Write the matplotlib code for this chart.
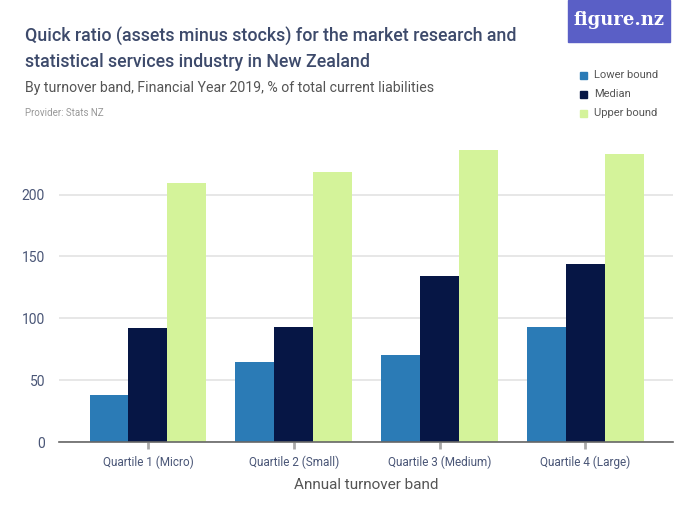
import matplotlib
matplotlib.use("Agg")
import matplotlib.pyplot as plt
import numpy as np
from matplotlib.patches import Rectangle

categories = ["Quartile 1 (Micro)", "Quartile 2 (Small)", "Quartile 3 (Medium)", "Quartile 4 (Large)"]
lower = [38, 65, 70, 93]
median = [92, 93, 134, 144]
upper = [209, 218, 236, 233]
series_names = ["Lower bound", "Median", "Upper bound"]
colors = ["#2b7bb6", "#061645", "#d4f39a"]
yticks = [0, 50, 100, 150, 200]

plt.rcParams['font.family'] = ['Roboto', 'DejaVu Sans']

fig = plt.figure(figsize=(7, 5.25), dpi=100)
ax = fig.add_axes([59/700, 1-442/525, (673-59)/700, (442-145)/525])

x = np.arange(len(categories))
w = 0.267
for i, (vals, c) in enumerate(zip([lower, median, upper], colors)):
    ax.bar(x + (i-1)*w, vals, width=w, color=c, zorder=3)

ax.set_xlim(-0.61, 3.6)
ax.set_ylim(0, 240)
ax.set_yticks(yticks)
ax.set_yticklabels([str(t) for t in yticks], color="#4a5677", fontsize=10)
ax.yaxis.grid(True, color="#e3e3e3", linewidth=1.2, zorder=0)
ax.tick_params(axis='y', length=0, pad=10)
ax.set_xticks(x)
ax.set_xticklabels(categories, color="#4a5677", fontsize=8.5)
ax.tick_params(axis='x', length=5, width=2, color="#aaaaaa", pad=5)
for s in ["top", "right", "left"]:
    ax.spines[s].set_visible(False)
ax.spines["bottom"].set_color("#666666")
ax.spines["bottom"].set_linewidth(1.2)
ax.spines["bottom"].set_zorder(4)
ax.set_xlabel("Annual turnover band", color="#555555", fontsize=11, labelpad=6)

# Titles
fig.text(25/700, 1-37/525, "Quick ratio (assets minus stocks) for the market research and",
         fontsize=12.8, color="#3d4a6b", va="center", ha="left", fontweight="medium")
fig.text(25/700, 1-62/525, "statistical services industry in New Zealand",
         fontsize=12.8, color="#3d4a6b", va="center", ha="left", fontweight="medium")
fig.text(25/700, 1-88/525, "By turnover band, Financial Year 2019, % of total current liabilities",
         fontsize=10.2, color="#555555", va="center", ha="left")
fig.text(25/700, 1-113/525, "Provider: Stats NZ",
         fontsize=7, color="#999999", va="center", ha="left")

# Logo
fig.patches.append(Rectangle((568/700, 1-42/525), (670-568)/700, 42/525,
                             transform=fig.transFigure, color="#5a5fc6", zorder=0))
fig.text(619/700, 1-20/525, "figure.nz", fontsize=13, color="white", ha="center", va="center",
         family=["DejaVu Serif"], fontweight="bold")

# Legend
for i, (name, c) in enumerate(zip(series_names, colors)):
    yy = 75 + i*19
    fig.patches.append(Rectangle((580/700, 1-(yy+3.5)/525), 7/700, 7/525,
                                 transform=fig.transFigure, color=c))
    fig.text(594/700, 1-yy/525, name, fontsize=8, color="#555555", va="center", ha="left")

fig.savefig("out.png", dpi=100)
